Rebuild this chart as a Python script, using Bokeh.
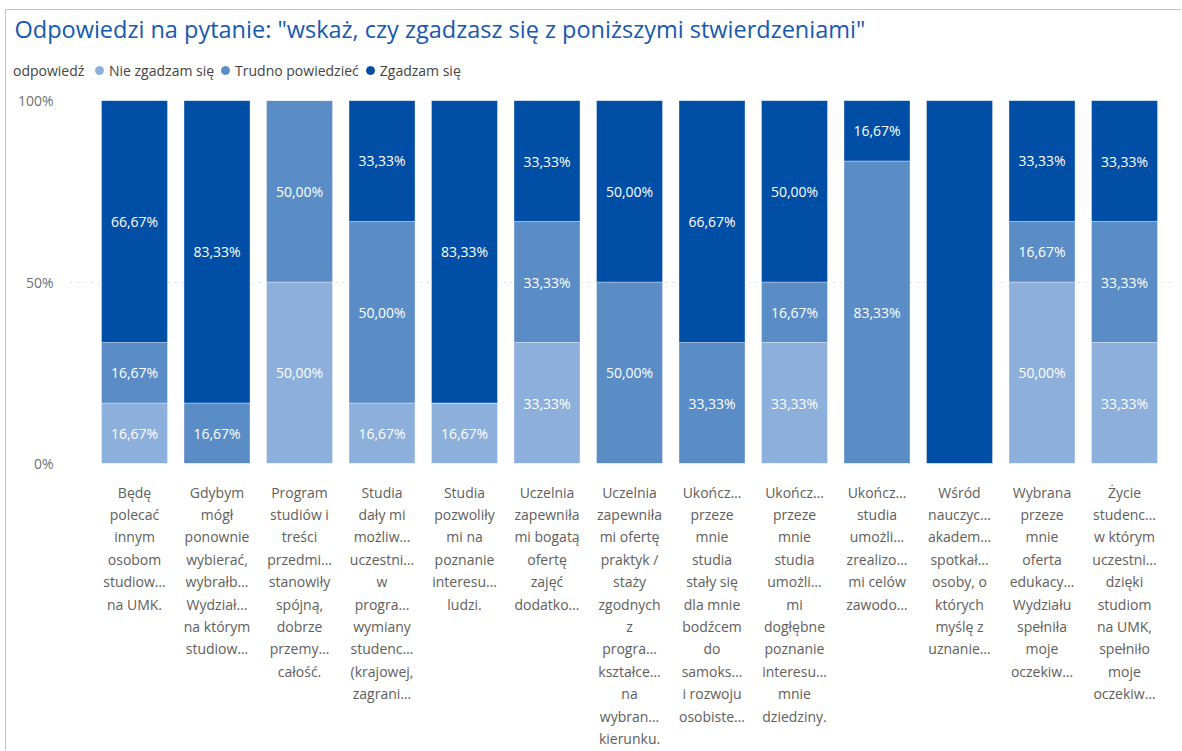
from bokeh.plotting import figure
from bokeh.layouts import column, row
from bokeh.models import ColumnDataSource, Range1d, FixedTicker, Legend, LegendItem
from bokeh.core.properties import value
from bokeh.embed import file_html
from bokeh.resources import INLINE

title_text = 'Odpowiedzi na pytanie: "wskaż, czy zgadzasz się z poniższymi stwierdzeniami"'
legend_title = "odpowiedź"

categories = [
    "Będę\npolecać\ninnym\nosobom\nstudiow…\nna UMK.",
    "Gdybym\nmógł\nponownie\nwybierać,\nwybrałb…\nWydział…\nna którym\nstudiow…",
    "Program\nstudiów i\ntreści\nprzedmi…\nstanowiły\nspójną,\ndobrze\nprzemy…\ncałość.",
    "Studia\ndały mi\nmożliw…\nuczestni…\nw\nprogra…\nwymiany\nstudenc…\n(krajowej,\nzagrani…",
    "Studia\npozwoliły\nmi na\npoznanie\ninteresu…\nludzi.",
    "Uczelnia\nzapewniła\nmi bogatą\nofertę\nzajęć\ndodatko…",
    "Uczelnia\nzapewniła\nmi ofertę\npraktyk /\nstaży\nzgodnych\nz\nprogra…\nkształce…\nna\nwybran…\nkierunku.",
    "Ukończ…\nprzeze\nmnie\nstudia\nstały się\ndla mnie\nbodźcem\ndo\nsamoks…\ni rozwoju\nosobiste…",
    "Ukończ…\nprzeze\nmnie\nstudia\numożli…\nmi\ndogłębne\npoznanie\ninteresu…\nmnie\ndziedziny.",
    "Ukończ…\nstudia\numożli…\nzrealizo…\nmi celów\nzawodo…",
    "Wśród\nnauczyc…\nakadem…\nspotkał…\nosoby, o\nktórych\nmyślę z\nuznanie…",
    "Wybrana\nprzeze\nmnie\noferta\nedukacy…\nWydziału\nspełniła\nmoje\noczekiw…",
    "Życie\nstudenc…\nw którym\nuczestni…\ndzięki\nstudiom\nna UMK,\nspełniło\nmoje\noczekiw…",
]

series_names = ["Nie zgadzam się", "Trudno powiedzieć", "Zgadzam się"]
nie_zgadzam = [16.67, 0, 50.00, 16.67, 16.67, 33.33, 0, 0, 33.33, 0, 0, 50.00, 33.33]
trudno = [16.67, 16.67, 50.00, 50.00, 0, 33.33, 50.00, 33.33, 16.67, 83.33, 0, 16.67, 33.33]
zgadzam = [66.67, 83.33, 0, 33.33, 83.33, 33.33, 50.00, 66.67, 50.00, 16.67, 100.00, 33.33, 33.33]

y_ticks = [0, 50, 100]
y_tick_labels = ["0%", "50%", "100%"]

colors = ["#8DAFDB", "#5A8CC6", "#004EA6"]
FONT = "Open Sans"

# ---------- header (title + legend) ----------
head = figure(width=1176, height=70, output_backend="svg", toolbar_location=None,
              x_range=Range1d(0, 1), y_range=Range1d(0, 1),
              x_axis_location=None, y_axis_location=None,
              min_border_left=0, min_border_right=0, min_border_top=0, min_border_bottom=0)
head.outline_line_color = None
head.xgrid.visible = False
head.ygrid.visible = False
head.title.text = title_text
head.title.align = "left"
head.title.offset = 8
head.title.text_font = FONT
head.title.text_font_style = "normal"
head.title.text_font_size = "23.5px"
head.title.text_color = "#1559B0"
head.title.standoff = 0

# legend proxies (kept outside the header's visible range)
r_blank = head.scatter(x=[-1], y=[-1], size=0, fill_alpha=0, line_alpha=0)
items = [LegendItem(label=legend_title + " ", renderers=[r_blank])]
for name, c in zip(series_names, colors):
    r = head.scatter(x=[-1], y=[-1], marker="circle", size=9, fill_color=c, line_color=c)
    items.append(LegendItem(label=name, renderers=[r]))
legend = Legend(items=items, orientation="horizontal", location=(-13, 0),
                glyph_width=20, glyph_height=20, label_standoff=-5, spacing=1,
                padding=0, margin=0, border_line_color=None, background_fill_alpha=0,
                label_text_font=FONT, label_text_font_size="14px", label_text_color="#444444")
head.add_layout(legend, "center")

# ---------- main chart ----------
xs = list(range(len(categories)))
src = ColumnDataSource(dict(x=xs, nie=nie_zgadzam, trudno=trudno, zgadzam=zgadzam))

p = figure(width=1176, height=671, output_backend="svg", toolbar_location=None,
           x_range=Range1d(-0.776, 12.606), y_range=Range1d(0, 100),
           min_border_left=64, min_border_right=8, min_border_top=20, min_border_bottom=285)
p.outline_line_color = None
p.background_fill_color = "white"
p.border_fill_color = "white"

p.vbar_stack(["nie", "trudno", "zgadzam"], x="x", width=0.8, color=colors, source=src,
             line_color="white", line_alpha=0.35, line_width=1)

lx, ly, lt = [], [], []
for i in xs:
    base = 0.0
    for vals in (nie_zgadzam, trudno, zgadzam):
        v = vals[i]
        if 0 < v < 100:
            lx.append(i)
            ly.append(base + v / 2)
            lt.append(f"{v:.2f}".replace(".", ",") + "%")
        base += v
p.text(x=lx, y=ly, text=lt, text_align="center", text_baseline="middle",
       text_color="white", text_font=value(FONT), text_font_size="14px")

p.xaxis.ticker = FixedTicker(ticks=xs)
p.xaxis.major_label_overrides = {i: c for i, c in zip(xs, categories)}
p.xaxis.axis_line_color = None
p.xaxis.major_tick_line_color = None
p.xaxis.minor_tick_line_color = None
p.xaxis.major_label_text_font = FONT
p.xaxis.major_label_text_font_size = "14px"
p.xaxis.major_label_text_color = "#605E5C"
p.xaxis.major_label_text_line_height = 1.18
p.xaxis.major_label_standoff = 13

p.yaxis.ticker = FixedTicker(ticks=y_ticks)
p.yaxis.major_label_overrides = {t: l for t, l in zip(y_ticks, y_tick_labels)}
p.yaxis.axis_line_color = None
p.yaxis.major_tick_line_color = None
p.yaxis.minor_tick_line_color = None
p.yaxis.major_tick_out = 0
p.yaxis.major_label_standoff = 17
p.yaxis.major_label_text_font = FONT
p.yaxis.major_label_text_font_size = "14px"
p.yaxis.major_label_text_color = "#707070"

p.xgrid.grid_line_color = None
p.ygrid.grid_line_color = "#BBBBBB"
p.ygrid.grid_line_dash = "1 6"
p.ygrid.grid_line_width = 1

layout = column(row(head, spacing=0), p, spacing=0, margin=(10, 0, 0, 6),
                styles={"box-shadow": "-1px -1px 0 0 #B3C7E8"})
open("out.html", "w").write(file_html(layout, INLINE))
